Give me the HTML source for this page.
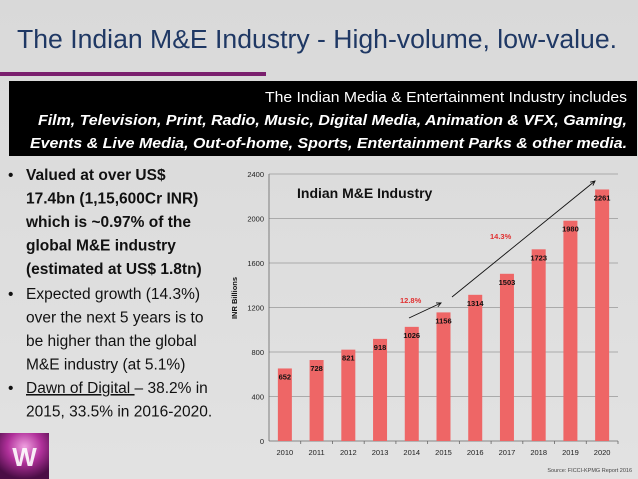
<!DOCTYPE html>
<html><head><meta charset="utf-8"><style>
html,body{margin:0;padding:0;}
body{width:638px;height:479px;overflow:hidden;background:#dcdcdc;}
svg{display:block;font-family:"Liberation Sans",sans-serif;}
</style></head><body>
<svg id="s" width="638" height="479" viewBox="0 0 638 479">
<defs>
<linearGradient id="bg" x1="0" y1="0" x2="0" y2="1"><stop offset="0" stop-color="#d9d9d9"/><stop offset="1" stop-color="#e2e2e2"/></linearGradient>
<radialGradient id="lg" cx="0.5" cy="0.3" r="0.7"><stop offset="0" stop-color="#f0a0e0"/><stop offset="0.5" stop-color="#b0309a"/><stop offset="1" stop-color="#4a0d45"/></radialGradient>
</defs>
<rect width="638" height="479" fill="url(#bg)"/>
<text x="17" y="48" font-size="25.5" fill="#1f3864" textLength="600" lengthAdjust="spacingAndGlyphs">The Indian M&amp;E Industry - High-volume, low-value.</text>
<rect x="0" y="72" width="266" height="4" fill="#7a1f6e"/>
<rect x="9" y="81" width="628" height="75" fill="#000"/>
<text x="627" y="102" font-size="15" fill="#fff" text-anchor="end" textLength="362" lengthAdjust="spacingAndGlyphs">The Indian Media &amp; Entertainment Industry includes</text>
<text x="38" y="125" font-size="15" fill="#fff" font-weight="bold" font-style="italic" textLength="589" lengthAdjust="spacingAndGlyphs">Film, Television, Print, Radio, Music, Digital Media, Animation &amp; VFX, Gaming,</text>
<text x="30" y="148" font-size="15" fill="#fff" font-weight="bold" font-style="italic" textLength="597" lengthAdjust="spacingAndGlyphs">Events &amp; Live Media, Out-of-home, Sports, Entertainment Parks &amp; other media.</text>
<g font-size="15.5" fill="#111">
<text x="8" y="180">•</text>
<g font-weight="bold">
<text x="26" y="180">Valued at over US$</text>
<text x="26" y="203.5">17.4bn (1,15,600Cr INR)</text>
<text x="26" y="227">which is ~0.97% of the</text>
<text x="26" y="250.5">global M&amp;E industry</text>
<text x="26" y="274">(estimated at US$ 1.8tn)</text>
</g>
<text x="8" y="299">•</text>
<text x="26" y="299">Expected growth (14.3%)</text>
<text x="26" y="322.5">over the next 5 years is to</text>
<text x="26" y="346">be higher than the global</text>
<text x="26" y="369.5">M&amp;E industry (at 5.1%)</text>
<text x="8" y="393">•</text>
<text x="26" y="393"><tspan text-decoration="underline">Dawn of Digital </tspan>– 38.2% in</text>
<text x="26" y="416.5">2015, 33.5% in 2016-2020.</text>
</g>
<rect x="0" y="433" width="49" height="46" fill="url(#lg)"/>
<text x="24.5" y="466" font-size="26" font-weight="bold" fill="#fff" text-anchor="middle" opacity="0.9">W</text>
<text x="632" y="472" font-size="5.5" fill="#444" text-anchor="end">Source: FICCI-KPMG Report 2016</text>
<g id="chart"></g>
</svg>
<script>
const categories = ["2010","2011","2012","2013","2014","2015","2016","2017","2018","2019","2020"];
const values = [652,728,821,918,1026,1156,1314,1503,1723,1980,2261];
const yTicks = [0,400,800,1200,1600,2000,2400];
const NS = "http://www.w3.org/2000/svg";
const g = document.getElementById("chart");
const X0 = 269, X1 = 618, Y0 = 441, Y1 = 174, YMAX = 2400;
const step = (X1 - X0) / categories.length;
const xc = i => X0 + step * (i + 0.5);
const y = v => Y0 - (v / YMAX) * (Y0 - Y1);
function mk(tag, attrs, parent) { const e = document.createElementNS(NS, tag); for (const k in attrs) e.setAttribute(k, attrs[k]); (parent || g).appendChild(e); return e; }
yTicks.forEach(t => {
  const l = mk("line", {x1: X0, x2: X1, y1: y(t), y2: y(t), stroke: t === 0 ? "#666" : "#999", "stroke-width": 0.8});
  
  
  const tx = mk("text", {x: X0 - 5, y: y(t) + 3, "font-size": 7.5, "text-anchor": "end", fill: "#222"});
  tx.textContent = t;
  
  
});
const ax = mk("line", {x1: X0, x2: X0, y1: Y1, y2: Y0, stroke: "#666", "stroke-width": 0.8});


categories.forEach((c, i) => {
  const v = values[i];
  const b = mk("rect", {x: xc(i) - 7, y: y(v), width: 14, height: Y0 - y(v), fill: "#ee6666"});
  
  
  const tk = mk("line", {x1: X0 + step * (i + 1), x2: X0 + step * (i + 1), y1: Y0, y2: Y0 + 3, stroke: "#666", "stroke-width": 0.8});
  
  
  const xl = mk("text", {x: xc(i), y: Y0 + 14, "font-size": 7.5, "text-anchor": "middle", fill: "#222"});
  xl.textContent = c;
  
  
  const vl = mk("text", {x: xc(i), y: y(v) + 11, "font-size": 7.5, "font-weight": "bold", "text-anchor": "middle", fill: "#111"});
  vl.textContent = v;
  
  
});
const yt = mk("text", {x: 0, y: 0, "font-size": 7.5, "font-weight": "bold", "text-anchor": "middle", fill: "#111", transform: "translate(237,298) rotate(-90)"});
yt.textContent = "INR Billions";


const ct = mk("text", {x: 297, y: 198, "font-size": 14, "font-weight": "bold", fill: "#111"});
ct.textContent = "Indian M&E Industry";


function arrow(x1, y1, x2, y2, name) {
  const l = mk("line", {x1, y1, x2, y2, stroke: "#111", "stroke-width": 0.9});
  
  
  const a = Math.atan2(y2 - y1, x2 - x1), s = 5;
  const p = mk("polyline", {points: `${x2 - s*Math.cos(a-0.45)},${y2 - s*Math.sin(a-0.45)} ${x2},${y2} ${x2 - s*Math.cos(a+0.45)},${y2 - s*Math.sin(a+0.45)}`, fill: "none", stroke: "#111", "stroke-width": 0.9});
  
  
}
arrow(409, 318, 441, 303, "growth-arrow-1");
arrow(452, 297, 595, 181, "growth-arrow-2");
const g1 = mk("text", {x: 400, y: 303, "font-size": 7.5, "font-weight": "bold", fill: "#e03030"});
g1.textContent = "12.8%";


const g2 = mk("text", {x: 490, y: 239, "font-size": 7.5, "font-weight": "bold", fill: "#e03030"});
g2.textContent = "14.3%";


</script>
</body></html>
